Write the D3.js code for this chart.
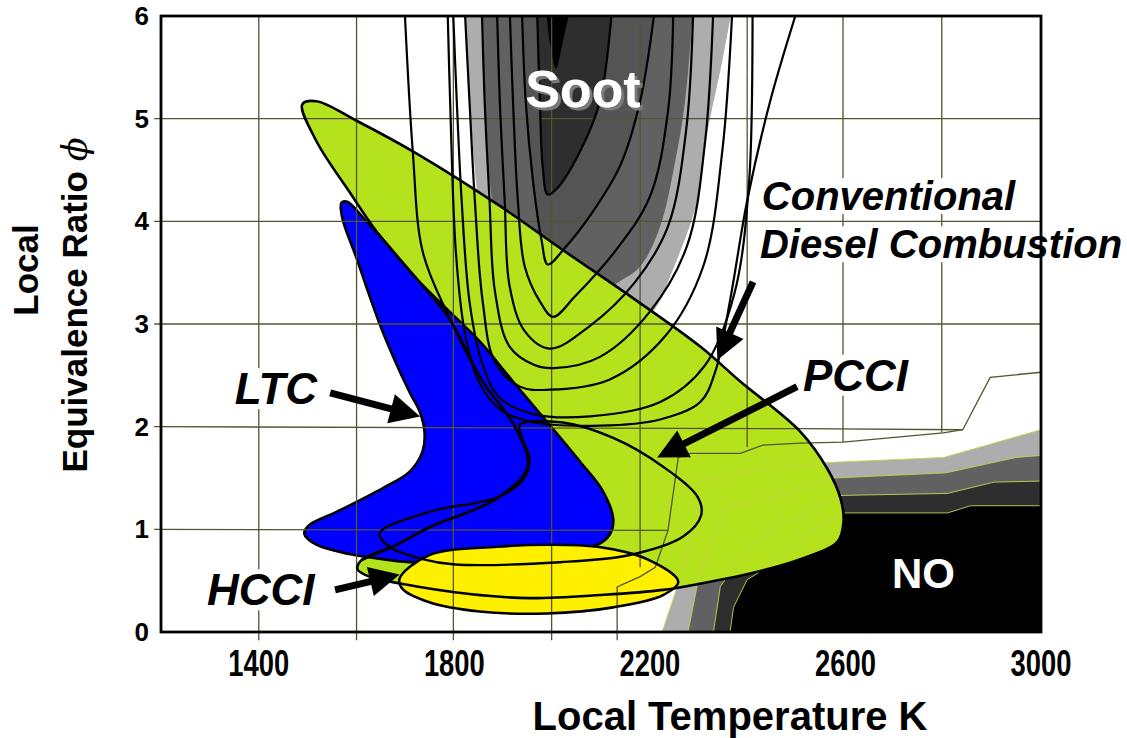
<!DOCTYPE html>
<html><head><meta charset="utf-8">
<script src="https://cdn.jsdelivr.net/npm/d3@7"></script>
<style>body{margin:0;background:#fff}svg{display:block}text{font-family:"Liberation Sans",Arial,sans-serif;font-weight:bold}</style>
</head><body><svg id="c" width="1127" height="738"></svg>
<script>
// ---------- axes / ticks ----------
const xDomain=[1200,3000], yDomain=[0,6];
const xTicks=[1400,1800,2200,2600,3000];
const yTicks=[0,1,2,3,4,5,6];
// ---------- grid (data units, slightly warped as in the figure) ----------
const gridLines=[
 [[1400,-0.08],[1400,6]],[[1600,-0.08],[1600,6]],[[1798,-0.08],[1798,6]],[[1999,-0.08],[1999,6]],
 [[2180,6],[2180,0.63]],
 [[2399,6],[2399,1.80]],[[2595,6],[2595,1.85]],[[2797,6],[2797,1.94]],
 [[1186,1],[2237,0.99]],[[1186,2],[2507,1.98],[2840,1.97]],
 [[1186,3],[3000,3]],[[1186,4],[3000,4]],[[1186,5],[3000,5]],
 [[2133,-0.08],[2133,0.44],[2180,0.54],[2211,0.63],[2237,0.99],[2258,1.70],[2282,1.74],[2385,1.74],[2431,1.82],[2507,1.84],[2595,1.85],[2800,1.94],[2840,1.97],[2896,2.48],[3000,2.53]]
];
// ---------- soot contour fills (T, phi) ----------
const sootLight=[[1821,6.1],[1831,5.17],[1848,4.20],[1872,3.22],[2016,2.83],[2180,3.02],[2207,3.12],[2248,3.54],[2297,4.20],[2317,4.85],[2348,5.56],[2369,6.1]];
const sootMid=[[1856,6.1],[1866,4.68],[1883,4.00],[1903,3.22],[2016,2.93],[2125,3.37],[2180,3.56],[2221,3.95],[2252,4.59],[2272,5.17],[2289,6.1]];
const sootCore=[[1987,6.1],[1995,5.75],[2008,5.49],[2022,5.75],[2038,6.1]];
// ---------- soot contour lines ----------
const sootU1=[[1969,6.1],[1975,5.17],[1981,4.52],[1991,4.26],[2010,4.32],[2057,4.68],[2098,5.17],[2123,6.1]];
const sootU2=[[1938,6.1],[1946,5.17],[1961,4.39],[1979,3.80],[1991,3.58],[2026,3.74],[2077,4.05],[2139,4.54],[2180,5.17],[2211,6.1]];
const sootU3=[[1913,6.1],[1920,5.17],[1930,4.20],[1944,3.56],[1975,3.22],[2002,3.07],[2047,3.27],[2129,3.71],[2200,4.24],[2237,5.07],[2248,6.1]];
const sootU4=[[1887,6.1],[1893,5.17],[1903,4.20],[1913,3.37],[1944,2.93],[1995,2.76],[2077,2.98],[2170,3.41],[2237,3.95],[2274,4.88],[2289,6.1]];
const sootU5=[[1856,6.1],[1862,5.17],[1872,4.20],[1883,3.32],[1913,2.78],[1964,2.60],[2004,2.57],[2098,2.68],[2200,3.12],[2276,3.76],[2313,4.78],[2330,6.1]];
const sootU6=[[1821,6.1],[1831,5.17],[1842,4.20],[1858,3.22],[1883,2.63],[1934,2.39],[1995,2.36],[2118,2.46],[2231,2.88],[2309,3.56],[2348,4.68],[2369,6.1]];
const sootU7=[[1797,6.1],[1805,5.17],[1815,4.20],[1831,3.22],[1856,2.63],[1893,2.28],[1964,2.12],[2077,2.10],[2221,2.24],[2313,2.60],[2373,3.30],[2403,4.39],[2410,6.1]];
const sootU8=[[1786,6.1],[1792,5.07],[1803,3.71],[1821,2.93],[1850,2.44],[1893,2.17],[1954,2.05],[2098,2.01],[2221,2.07],[2303,2.24],[2334,2.54],[2364,3.23],[2399,4.20],[2446,5.17],[2504,6.1]];
const sootU9=[[1698,6.1],[1715,4.68],[1735,3.71],[1784,3.12],[1858,2.44],[1924,2.00],[1950,1.61],[1887,1.30],[1749,1.02],[1682,0.85],[1610,0.70]];
// ---------- NO contour fills ----------
const no1=[[2225,0],[2256,0.44],[2289,0.99],[2309,1.48],[2426,1.58],[2563,1.65],[2801,1.70],[3000,1.97]];
const no2=[[2278,0],[2297,0.46],[2328,0.90],[2358,1.22],[2467,1.33],[2576,1.50],[2805,1.55],[2949,1.70],[3000,1.72]];
const no3=[[2330,0],[2344,0.44],[2395,0.80],[2446,0.99],[2508,1.14],[2590,1.33],[2809,1.35],[2904,1.46],[3000,1.47]];
const no4=[[2364,0],[2371,0.24],[2399,0.51],[2420,0.57],[2487,0.85],[2569,1.09],[2596,1.16],[2809,1.16],[2856,1.23],[3000,1.23]];
// ---------- combustion regimes ----------
const conventional=[[1489,5.14],[1518,5.17],[1600,4.98],[1723,4.66],[1893,4.15],[2016,3.74],[2166,3.25],[2303,2.78],[2385,2.44],[2508,1.95],[2563,1.59],[2590,1.30],[2596,1.07],[2584,0.88],[2508,0.71],[2405,0.57],[2323,0.49],[2227,0.41],[2098,0.36],[1954,0.33],[1831,0.37],[1692,0.47],[1626,0.54],[1602,0.61],[1610,0.70],[1682,0.85],[1749,1.02],[1887,1.30],[1950,1.61],[1924,2.00],[1858,2.44],[1790,3.05],[1723,3.44],[1641,3.90],[1585,4.29],[1518,4.78]];
const ltc=[[1569,4.18],[1581,4.19],[1620,4.00],[1653,3.83],[1723,3.44],[1784,3.15],[1852,2.83],[1920,2.44],[1989,2.05],[2057,1.66],[2104,1.37],[2125,1.10],[2118,0.95],[2092,0.85],[2022,0.81],[1893,0.78],[1723,0.68],[1653,0.71],[1585,0.76],[1518,0.85],[1493,0.96],[1503,1.04],[1559,1.17],[1653,1.40],[1708,1.56],[1735,1.76],[1739,1.95],[1729,2.15],[1708,2.34],[1653,2.93],[1600,3.64],[1571,4.03]];
const hcci=[[1688,0.52],[1749,0.75],[1887,0.83],[1989,0.85],[2092,0.83],[2194,0.71],[2258,0.49],[2227,0.36],[2125,0.24],[1989,0.18],[1852,0.20],[1749,0.29],[1694,0.42]];
const pcci=[[1934,2.02],[2022,2.04],[2125,1.89],[2227,1.61],[2297,1.32],[2305,1.14],[2268,0.93],[2159,0.75],[2016,0.68],[1797,0.66],[1735,0.71],[1667,0.83],[1647,0.96],[1749,1.17],[1887,1.31],[1940,1.48],[1954,1.68],[1938,1.90]];
// ---------- annotations ----------
const arrows=[
 {from:[2411,3.41],to:[2338,2.65]},
 {from:[2501,2.39],to:[2215,1.70]},
 {from:[1546,2.33],to:[1730,2.10]},
 {from:[1556,0.41],to:[1688,0.56]}
];
const labels=[
 {t:"Conventional",p:[2429,4.11],size:40},
 {t:"Diesel Combustion",p:[2425,3.64],size:40},
 {t:"PCCI",p:[2513,2.35],size:44},
 {t:"LTC",p:[1351,2.22],size:44},
 {t:"HCCI",p:[1294,0.26],size:44}
];

const svg=d3.select('#c');
const x=d3.scaleLinear().domain(xDomain).range([161,1041]);
const y=d3.scaleLinear().domain(yDomain).range([632,16]);
const defs=svg.append('defs');
defs.append('clipPath').attr('id','plot').append('rect')
  .attr('x',161).attr('y',16).attr('width',880).attr('height',616);
const sh=defs.append('filter').attr('id','shadow').attr('x','-10%').attr('y','-10%').attr('width','130%').attr('height','140%');
sh.append('feDropShadow').attr('dx',3).attr('dy',3).attr('stdDeviation',0.6).attr('flood-color','#7a7a7a').attr('flood-opacity',1);

const lin=d3.line().x(d=>x(d[0])).y(d=>y(d[1]));
const smooth=d3.line().x(d=>x(d[0])).y(d=>y(d[1])).curve(d3.curveCatmullRom.alpha(0.5));
const closed=d3.line().x(d=>x(d[0])).y(d=>y(d[1])).curve(d3.curveCatmullRomClosed.alpha(0.5));

const fills=svg.append('g').attr('clip-path','url(#plot)');
fills.append('path').attr('d',smooth(sootLight)+'Z').attr('fill','#adadad');
fills.append('path').attr('d',smooth(sootMid)+'Z').attr('fill','#616161');
fills.append('path').attr('d',smooth(sootU2)+'Z').attr('fill','#545454');
fills.append('path').attr('d',smooth(sootU1)+'Z').attr('fill','#2e2e2e');
fills.append('path').attr('d',smooth(sootCore)+'Z').attr('fill','#000');
[[no1,'#adadad'],[no2,'#616161'],[no3,'#2e2e2e'],[no4,'#000']].forEach(([d,c])=>{
  fills.append('path').attr('d',lin(d.concat([[3000,0]]))+'Z').attr('fill',c);
});
fills.append('path').attr('d',closed(conventional)).attr('fill','#b4e31e');
fills.append('path').attr('d',closed(ltc)).attr('fill','#0000ff');
fills.append('path').attr('d',closed(ltc)).attr('fill','none').attr('stroke','#000').attr('stroke-width',2.6);
fills.append('path').attr('d',closed(hcci)).attr('fill','#fff000');
[no1,no2,no3,no4].forEach(d=>{
  fills.append('path').attr('d',lin(d)).attr('fill','none').attr('stroke','#c9d24a').attr('stroke-width',1).attr('opacity',0.9);
});
const grid=svg.append('g');
gridLines.forEach(d=>grid.append('path').attr('d',lin(d)).attr('fill','none').attr('stroke','#545430').attr('stroke-width',1.3));
const knock=svg.append('g');
const outl=svg.append('g').attr('clip-path','url(#plot)');
outl.append('path').attr('d',closed(hcci)).attr('fill','none').attr('stroke','#000').attr('stroke-width',2.6);
outl.append('path').attr('d',closed(conventional)).attr('fill','none').attr('stroke','#000').attr('stroke-width',2.6);
outl.append('path').attr('d',closed(pcci)).attr('fill','none').attr('stroke','#000').attr('stroke-width',2.4);
[sootU1,sootU2,sootU3,sootU4,sootU5,sootU6,sootU7,sootU8,sootU9].forEach(d=>{
  outl.append('path').attr('d',smooth(d)).attr('fill','none').attr('stroke','#000').attr('stroke-width',2.2);
});
svg.append('rect').attr('x',161).attr('y',16).attr('width',880).attr('height',616)
  .attr('fill','none').attr('stroke','#000').attr('stroke-width',2.8);
svg.append('g').selectAll('text').data(xTicks).join('text')
  .attr('transform',d=>`translate(${x(d)},676) scale(0.74,1)`).attr('text-anchor','middle').attr('font-size',37).text(d=>d);
svg.append('g').selectAll('text').data(yTicks).join('text')
  .attr('x',149).attr('y',d=>y(d)+9).attr('text-anchor','end').attr('font-size',26).text(d=>d);
svg.append('text').attr('x',730).attr('y',730).attr('text-anchor','middle').attr('font-size',40).text('Local Temperature K');
svg.append('text').attr('transform','translate(38,270) rotate(-90)').attr('text-anchor','middle').attr('font-size',35).text('Local');
const yt=svg.append('text').attr('transform','translate(87,305) rotate(-90)').attr('text-anchor','middle').attr('font-size',35);
yt.append('tspan').text('Equivalence Ratio ');
yt.append('tspan').attr('font-style','italic').attr('font-weight','normal').attr('font-family','DejaVu Serif').text('\u03D5');
const ann=svg.append('g');
arrows.forEach(a=>{
  const x0=x(a.from[0]),y0=y(a.from[1]),x1=x(a.to[0]),y1=y(a.to[1]);
  const dx=x1-x0,dy=y1-y0,len=Math.hypot(dx,dy),ux=dx/len,uy=dy/len;
  const L=30,w=15;
  const bx=x1-ux*L,by=y1-uy*L;
  ann.append('line').attr('x1',x0).attr('y1',y0).attr('x2',bx+ux*4).attr('y2',by+uy*4).attr('stroke','#000').attr('stroke-width',7);
  ann.append('path').attr('d',`M${x1},${y1}L${bx-uy*w},${by+ux*w}L${bx+uy*w},${by-ux*w}Z`).attr('fill','#000');
});
labels.forEach(l=>{
  const t=ann.append('text').attr('x',x(l.p[0])).attr('y',y(l.p[1])).attr('font-size',l.size).attr('font-style','italic').text(l.t);
  const b=t.node().getBBox();
  knock.append('rect').attr('x',b.x-2).attr('y',b.y+4).attr('width',b.width+4).attr('height',b.height-8).attr('fill','#fff');
});
ann.append('text').attr('x',x(2063)).attr('y',y(5.11)).attr('text-anchor','middle').attr('font-size',52).attr('fill','#fff').attr('filter','url(#shadow)').text('Soot');
ann.append('text').attr('x',x(2695)).attr('y',y(0.43)).attr('font-size',42).attr('fill','#fff').text('NO');
</script></body></html>
